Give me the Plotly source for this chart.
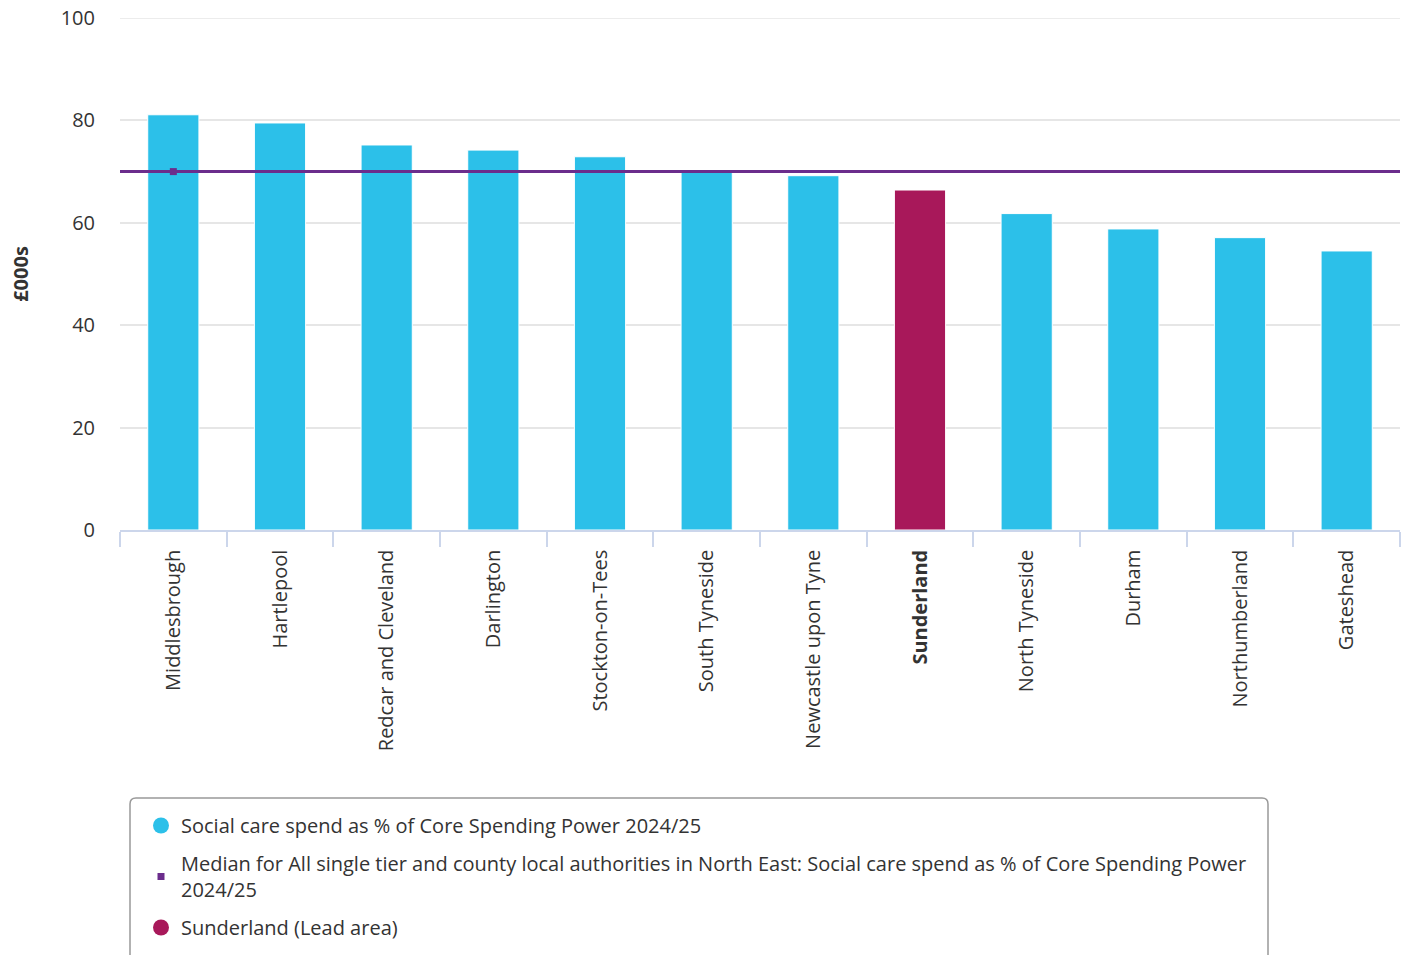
import plotly.graph_objects as go

# ---- data ----
areas = ["Middlesbrough", "Hartlepool", "Redcar and Cleveland", "Darlington",
         "Stockton-on-Tees", "South Tyneside", "Newcastle upon Tyne", "Sunderland",
         "North Tyneside", "Durham", "Northumberland", "Gateshead"]
values = [81.1, 79.5, 75.2, 74.2, 72.9, 70.1, 69.2, 66.4, 61.8, 58.8, 57.1, 54.5]
median_value = 70.0
lead_area = "Sunderland"
y_ticks = [0, 20, 40, 60, 80, 100]

series_name = "Social care spend as % of Core Spending Power 2024/25"
median_name = ("Median for All single tier and county local authorities in North East: "
               "Social care spend as % of Core Spending Power<br>2024/25")
lead_name = "Sunderland (Lead area)"

CYAN = "#2cc0e9"
LEAD = "#a8185a"
PURPLE = "#6b2d8c"
GRID = "#e6e6e6"
FONT = "Open Sans"
TXT = "#333333"

W, H = 1407, 955
L, R, T, B = 120, 7, 18, 425
PW, PH = W - L - R, H - T - B

def px_x(p):
    return (p - L) / PW

def px_y(p):
    return (H - B - p) / PH

fig = go.Figure()

colors = [LEAD if a == lead_area else CYAN for a in areas]
fig.add_trace(go.Bar(
    x=areas, y=values, marker=dict(color=colors, line=dict(color="white", width=1)),
    width=0.48, showlegend=False, hoverinfo="x+y"))

# top gridline (Plotly skips the one at the range edge)
fig.add_shape(type="line", xref="paper", yref="y", x0=0, x1=1,
              y0=y_ticks[-1], y1=y_ticks[-1],
              line=dict(color=GRID, width=1.5), layer="below")

# median line across plot
fig.add_shape(type="line", xref="paper", yref="y", x0=0, x1=1,
              y0=median_value, y1=median_value,
              line=dict(color=PURPLE, width=3), layer="above")

# legend entries
fig.add_trace(go.Scatter(x=[None], y=[None], mode="markers", name=series_name,
                         marker=dict(symbol="circle", size=19, color=CYAN),
                         legendgroup="a"))
fig.add_trace(go.Scatter(x=[areas[0]], y=[median_value], mode="markers", name=median_name,
                         marker=dict(symbol="square", size=7, color=PURPLE),
                         legendgroup="b"))
fig.add_trace(go.Scatter(x=[None], y=[None], mode="markers", name=lead_name,
                         marker=dict(symbol="circle", size=19, color=LEAD),
                         legendgroup="c"))

# rounded legend frame
x0, x1 = px_x(130), px_x(1268)
y0, y1 = px_y(798), px_y(975)
rx, ry = 6 / PW, 6 / PH
path = (f"M {x0+rx},{y0} L {x1-rx},{y0} Q {x1},{y0} {x1},{y0-ry} "
        f"L {x1},{y1} L {x0},{y1} L {x0},{y0-ry} Q {x0},{y0} {x0+rx},{y0} Z")
fig.add_shape(type="path", xref="paper", yref="paper", path=path,
              line=dict(color="#999999", width=1.5), fillcolor="rgba(0,0,0,0)")

ticktext = [f"<b>{a}</b>" if a == lead_area else a for a in areas]

fig.update_layout(
    width=W, height=H,
    margin=dict(l=L, r=R, t=T, b=B, autoexpand=False),
    plot_bgcolor="white", paper_bgcolor="white",
    font=dict(family=FONT, color=TXT, size=20),
    bargap=0.52,
    legend=dict(x=px_x(141), y=px_y(806), xanchor="left", yanchor="top",
                orientation="v", tracegroupgap=9, font=dict(size=20, color=TXT),
                bgcolor="rgba(0,0,0,0)", borderwidth=0),
    xaxis=dict(categoryorder="array", categoryarray=areas,
               range=[-0.5, len(areas) - 0.5],
               tickmode="array", tickvals=areas, ticktext=ticktext,
               tickangle=-90, showline=True, linecolor="#ccd6eb", linewidth=1.5,
               ticks="outside", tickson="boundaries", ticklen=15, tickcolor="#ccd6eb",
               tickwidth=1.5, showgrid=False, ticklabelstandoff=10,
               tickfont=dict(size=20, color=TXT)),
    yaxis=dict(range=[0, 100], tickvals=y_ticks, showgrid=True, gridcolor=GRID,
               gridwidth=1.5, zeroline=False, showline=False,
               ticklabelstandoff=24, ticklabeloverflow="allow",
               tickfont=dict(size=20, color=TXT),
               title=dict(text="<b>£000s</b>", font=dict(size=20, color=TXT), standoff=26)),
)

fig.write_html("out.html", config={"displayModeBar": False},
               post_script="document.body.style.margin='0px';document.body.style.overflow='hidden';")
